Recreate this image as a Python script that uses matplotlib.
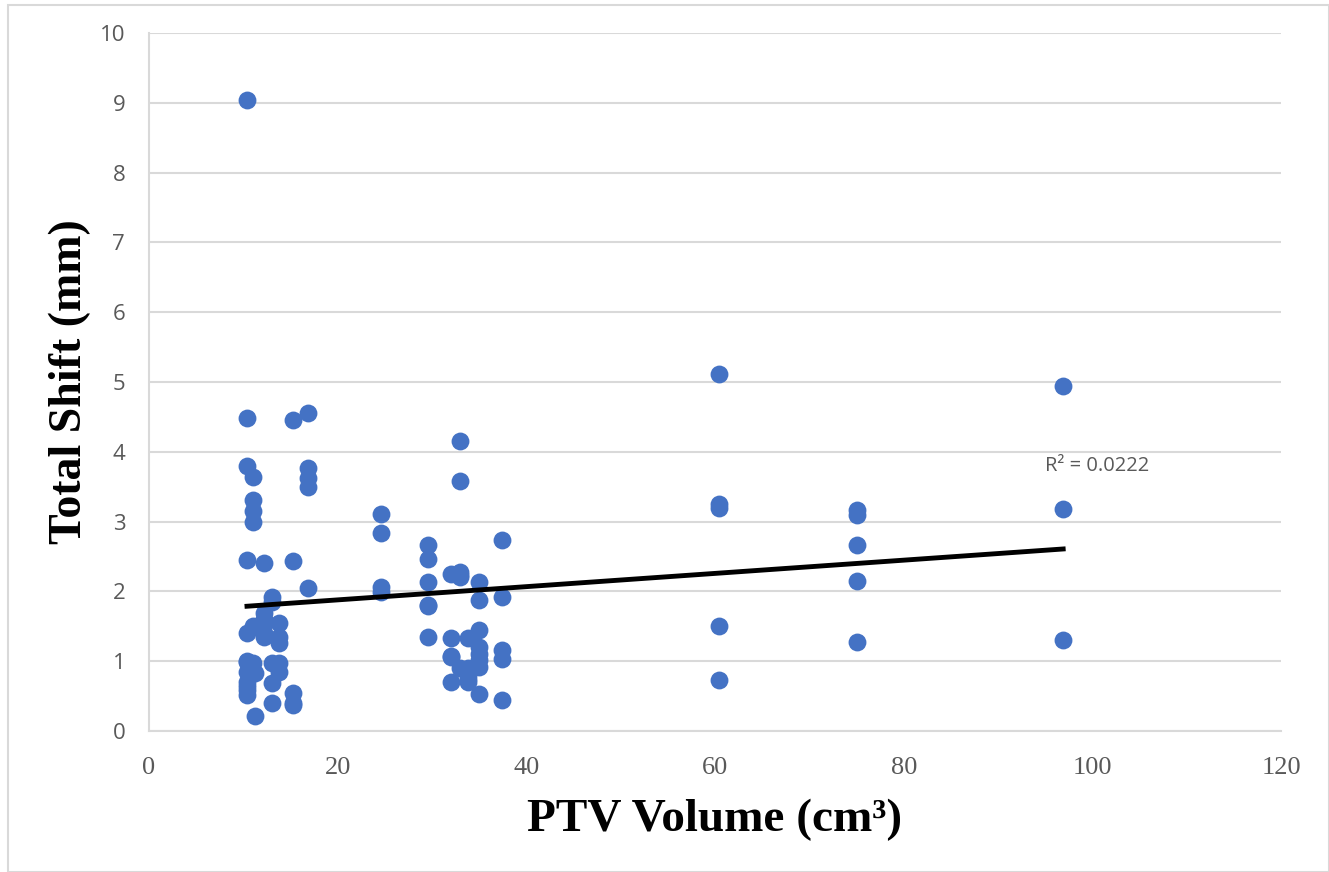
import matplotlib.pyplot as plt
import numpy as np
from matplotlib.patches import Rectangle

# PTV volume (cm3) and total shift (mm)
volume = [10.4] * 12 + [11.0] * 6 + [11.3] * 2 + [12.2] * 6 + [13.0] * 5 + [13.8] * 5 \
    + [15.3] * 5 + [16.9] * 5 + [24.6] * 4 + [29.6] * 6 + [32.0] * 5 + [33.0] * 6 \
    + [33.8] * 5 + [35.0] * 8 + [37.4] * 5 + [60.4] * 5 + [75.0] * 5 + [96.9] * 3
shift = [9.04, 4.48, 3.80, 2.45, 1.41, 1.00, 0.99, 0.85, 0.70, 0.64, 0.59, 0.52,
         3.64, 3.31, 3.15, 3.00, 0.98, 1.50,
         0.83, 0.21,
         2.41, 1.69, 1.60, 1.55, 1.40, 1.35,
         1.92, 1.85, 0.98, 0.69, 0.40,
         1.55, 1.35, 1.26, 0.98, 0.85,
         4.46, 2.44, 0.54, 0.40, 0.37,
         4.56, 3.77, 3.62, 3.50, 2.05,
         3.11, 2.84, 2.06, 1.99,
         2.67, 2.46, 2.13, 1.79, 1.35, 1.80,
         2.25, 1.33, 1.06, 0.70, 1.08,
         4.16, 3.58, 2.28, 2.21, 0.90, 2.24,
         1.33, 0.90, 0.80, 0.70, 0.75,
         2.13, 1.88, 1.45, 1.21, 1.11, 1.02, 0.92, 0.53,
         2.74, 1.92, 1.16, 1.03, 0.44,
         5.12, 3.25, 3.20, 1.51, 0.73,
         3.17, 3.09, 2.66, 2.15, 1.28,
         4.94, 3.18, 1.30]
r2_label = 'R² = 0.0222'

x = np.array(volume)
y = np.array(shift)
slope, intercept = np.polyfit(x, y, 1)

fig = plt.figure(figsize=(13.29, 8.72), dpi=100)
fig.patches.append(Rectangle((0.006, 0.0), 0.994, 0.994, transform=fig.transFigure,
                             fill=False, edgecolor='#d9d9d9', linewidth=1.5))
ax = fig.add_axes([0.112, 0.1617, 0.852, 0.8005])

ax.scatter(x, y, s=165, color='#4472c4', zorder=3, linewidths=0)
xs = np.array([x.min(), x.max()])
ax.plot(xs, slope * xs + intercept, color='black', linewidth=3.5, zorder=4)
ax.text(95, 3.72, r2_label, fontsize=14.5, color='#595959', family='Open Sans')

ax.set_xlim(0, 120)
ax.set_ylim(0, 10)
ax.set_xticks(np.arange(0, 121, 20))
ax.set_yticks(np.arange(0, 11, 1))
ax.grid(axis='y', color='#d9d9d9', linewidth=1.5)
ax.set_axisbelow(True)
for side in ['top', 'right']:
    ax.spines[side].set_visible(False)
for side in ['left', 'bottom']:
    ax.spines[side].set_color('#d9d9d9')
    ax.spines[side].set_linewidth(1.5)
ax.tick_params(length=0, labelcolor='#595959')
ax.tick_params(axis='x', labelsize=19, pad=19)
ax.tick_params(axis='y', labelsize=16, pad=17)
for lab in ax.get_xticklabels():
    lab.set_family('Liberation Serif')
for lab in ax.get_yticklabels():
    lab.set_family('Open Sans')

ax.set_xlabel('PTV Volume (cm³)', fontsize=34, fontweight='bold',
              family='Liberation Serif', labelpad=14)
ax.set_ylabel('Total Shift (mm)', fontsize=33, fontweight='bold',
              family='Liberation Serif', labelpad=6)

fig.savefig('out.png', dpi=100)
